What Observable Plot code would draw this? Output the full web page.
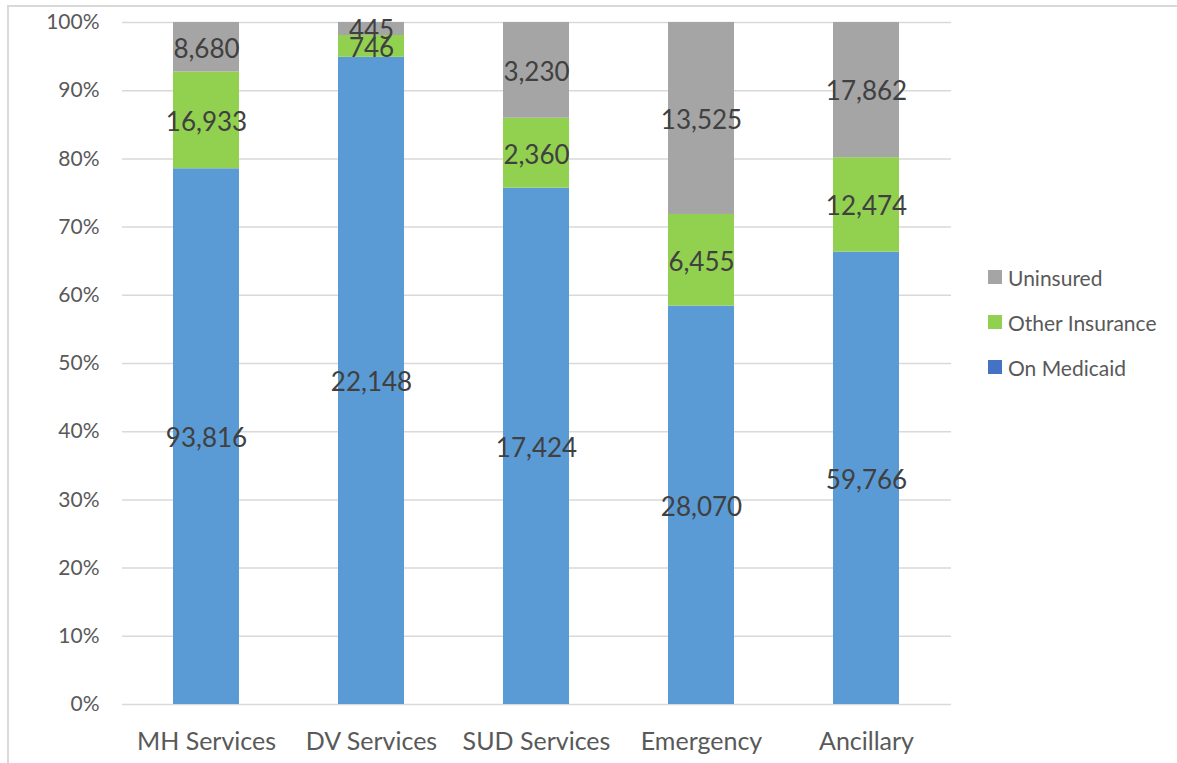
<!DOCTYPE html>
<html>
<head>
<meta charset="utf-8">
<script src="https://cdn.jsdelivr.net/npm/d3@7"></script>
<script src="https://cdn.jsdelivr.net/npm/@observablehq/plot@0.6"></script>
<style>
  html, body { margin: 0; padding: 0; background: #fff; }
  #wrap { position: relative; width: 1177px; height: 763px; overflow: hidden; font-family: Lato, "Open Sans", sans-serif; }
  #border { position: absolute; left: 7px; top: 5px; width: 2000px; height: 2000px; border-top: 2px solid #D9D9D9; border-left: 2px solid #D9D9D9; pointer-events: none; }
  #legend { position: absolute; left: 988px; top: 0; }
  .item { position: absolute; left: 0; display: flex; align-items: center; white-space: nowrap; font-size: 21px; color: #595959; }
  .sw { width: 14px; height: 14px; margin-right: 6px; }
</style>
</head>
<body>
<div id="wrap">
  <div id="chart"></div>
  <div id="border"></div>
  <div id="legend"></div>
</div>
<script>
const categories = ["MH Services", "DV Services", "SUD Services", "Emergency", "Ancillary"];
const seriesNames = ["On Medicaid", "Other Insurance", "Uninsured"];
const medicaid = [93816, 22148, 17424, 28070, 59766];
const otherIns = [16933, 746, 2360, 6455, 12474];
const uninsured = [8680, 445, 3230, 13525, 17862];
const yTicks = [0, 0.1, 0.2, 0.3, 0.4, 0.5, 0.6, 0.7, 0.8, 0.9, 1];
const barColors = ["#5B9BD5", "#92D050", "#A5A5A5"];
const legendColors = ["#4472C4", "#92D050", "#A5A5A5"];

const seriesValues = [medicaid, otherIns, uninsured];
const rows = [];
categories.forEach((c, i) => {
  seriesNames.forEach((s, j) => rows.push({category: c, series: s, value: seriesValues[j][i]}));
});

const stackOpts = {x: "category", y: "value", z: "series", offset: "normalize"};

const chart = Plot.plot({
  width: 1177,
  height: 763,
  marginLeft: 122,
  marginRight: 226,
  marginTop: 22,
  marginBottom: 59,
  style: {fontFamily: "Lato, 'Open Sans', sans-serif", background: "transparent"},
  x: {domain: categories, paddingInner: 0.6, paddingOuter: 0.3, label: null},
  y: {domain: [0, 1], label: null},
  color: {domain: seriesNames, range: barColors},
  marks: [
    Plot.gridY(yTicks, {stroke: "#D9D9D9", strokeOpacity: 1, strokeWidth: 1.5}),
    Plot.barY(rows, Plot.stackY({...stackOpts, fill: "series"})),
    Plot.text(rows, Plot.stackY({...stackOpts, text: d => d3.format(",")(d.value), fill: "#404040", fontSize: 26, dy: 2})),
    Plot.axisY({ticks: yTicks, tickFormat: d3.format(".0%"), tickSize: 0, tickPadding: 23, fontSize: 21, fill: "#595959", label: null}),
    Plot.axisX({tickSize: 0, tickPadding: 28, fontSize: 25, fill: "#595959", label: null})
  ]
});
document.getElementById("chart").appendChild(chart);

const legend = document.getElementById("legend");
const legendOrder = [2, 1, 0];
const legendY = [277, 322, 367];
legendOrder.forEach((j, k) => {
  const it = document.createElement("div");
  it.className = "item";
  it.style.top = (legendY[k] - 14) + "px";
  it.style.height = "28px";
  const sw = document.createElement("div");
  sw.className = "sw";
  sw.style.background = legendColors[j];
  const tx = document.createElement("span");
  tx.textContent = seriesNames[j];
  it.appendChild(sw);
  it.appendChild(tx);
  legend.appendChild(it);
});
</script>
</body>
</html>
